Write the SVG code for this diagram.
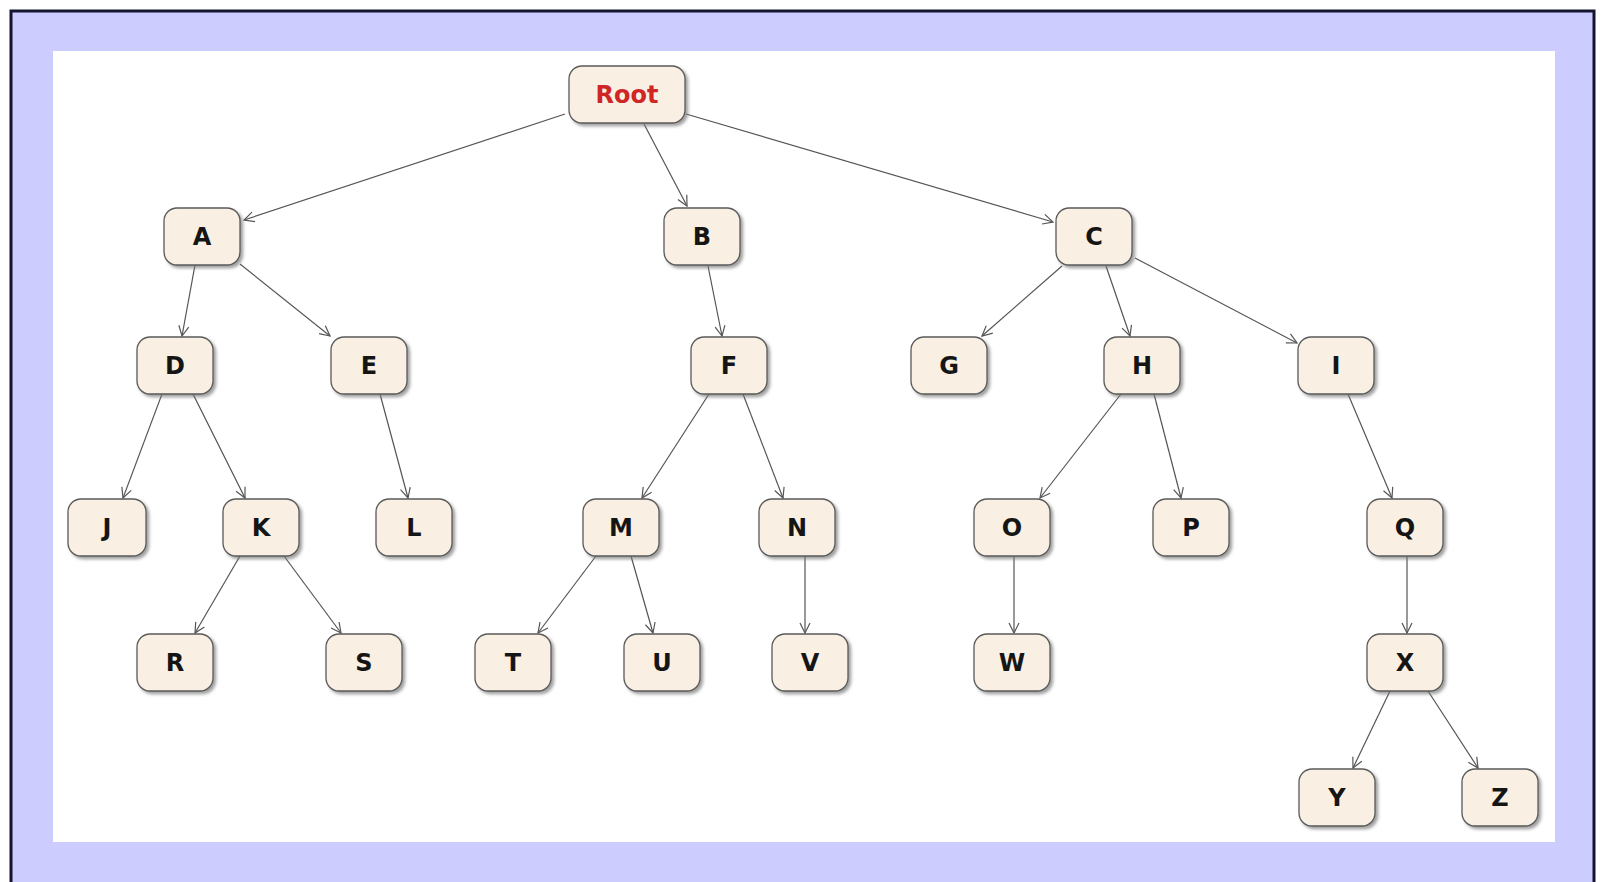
<svg xmlns="http://www.w3.org/2000/svg" width="1601" height="882" viewBox="0 0 1601 882">
<style>
.frame{fill:#ccccff;stroke:#14142e;stroke-width:3}
.inner{fill:#ffffff}
.box{fill:#f9f0e3;stroke:#5a5a5a;stroke-width:1.3;filter:url(#sh)}
.lbl{font-family:"DejaVu Sans",Verdana,sans-serif;font-weight:bold;font-size:24px;fill:#151515;text-anchor:middle}
.root{fill:#d02626}
.edge{stroke:#555;stroke-width:1.2;fill:none;marker-end:url(#arr)}
</style>
<defs>
<filter id="sh" x="-20%" y="-20%" width="150%" height="150%">
<feDropShadow dx="2.5" dy="2.5" stdDeviation="1.5" flood-color="#777" flood-opacity="0.7"/>
</filter>
<marker id="arr" viewBox="0 0 12 12" refX="11" refY="6" markerWidth="12" markerHeight="12" markerUnits="userSpaceOnUse" orient="auto">
<path d="M1,1 L11,6 L1,11" fill="none" stroke="#555" stroke-width="1.2"/>
</marker>
</defs>
<rect class="frame" x="11" y="11" width="1583" height="890"/>
<rect class="inner" x="53" y="51" width="1502" height="791"/>
<g id="connectors">
<line class="edge" x1="565" y1="114" x2="244" y2="220"/>
<line class="edge" x1="644" y1="124" x2="687" y2="206"/>
<line class="edge" x1="686" y1="114" x2="1053" y2="222"/>
<line class="edge" x1="195" y1="265" x2="182" y2="336"/>
<line class="edge" x1="240" y1="264" x2="330" y2="336"/>
<line class="edge" x1="708" y1="266" x2="722" y2="336"/>
<line class="edge" x1="1062" y1="266" x2="982" y2="336"/>
<line class="edge" x1="1106" y1="266" x2="1130" y2="336"/>
<line class="edge" x1="1135" y1="258" x2="1297" y2="343"/>
<line class="edge" x1="162" y1="394" x2="123" y2="498"/>
<line class="edge" x1="193" y1="394" x2="245" y2="498"/>
<line class="edge" x1="380" y1="394" x2="408" y2="498"/>
<line class="edge" x1="709" y1="394" x2="642" y2="498"/>
<line class="edge" x1="743" y1="394" x2="783" y2="498"/>
<line class="edge" x1="1121" y1="394" x2="1040" y2="498"/>
<line class="edge" x1="1154" y1="394" x2="1181" y2="498"/>
<line class="edge" x1="1348" y1="394" x2="1392" y2="498"/>
<line class="edge" x1="240" y1="556" x2="195" y2="633"/>
<line class="edge" x1="284" y1="556" x2="341" y2="633"/>
<line class="edge" x1="596" y1="556" x2="538" y2="633"/>
<line class="edge" x1="631" y1="556" x2="653" y2="633"/>
<line class="edge" x1="805" y1="556" x2="805" y2="633"/>
<line class="edge" x1="1014" y1="556" x2="1014" y2="633"/>
<line class="edge" x1="1407" y1="556" x2="1407" y2="633"/>
<line class="edge" x1="1390" y1="691" x2="1353" y2="768"/>
<line class="edge" x1="1428" y1="691" x2="1478" y2="768"/>
</g>
<g id="node-root"><rect class="box" x="569" y="66" width="116" height="57" rx="13"/><text class="lbl root" x="627" y="103">Root</text></g>
<g id="node-A"><rect class="box" x="164" y="208" width="76" height="57" rx="13"/><text class="lbl" x="202" y="245">A</text></g>
<g id="node-B"><rect class="box" x="664" y="208" width="76" height="57" rx="13"/><text class="lbl" x="702" y="245">B</text></g>
<g id="node-C"><rect class="box" x="1056" y="208" width="76" height="57" rx="13"/><text class="lbl" x="1094" y="245">C</text></g>
<g id="node-D"><rect class="box" x="137" y="337" width="76" height="57" rx="13"/><text class="lbl" x="175" y="374">D</text></g>
<g id="node-E"><rect class="box" x="331" y="337" width="76" height="57" rx="13"/><text class="lbl" x="369" y="374">E</text></g>
<g id="node-F"><rect class="box" x="691" y="337" width="76" height="57" rx="13"/><text class="lbl" x="729" y="374">F</text></g>
<g id="node-G"><rect class="box" x="911" y="337" width="76" height="57" rx="13"/><text class="lbl" x="949" y="374">G</text></g>
<g id="node-H"><rect class="box" x="1104" y="337" width="76" height="57" rx="13"/><text class="lbl" x="1142" y="374">H</text></g>
<g id="node-I"><rect class="box" x="1298" y="337" width="76" height="57" rx="13"/><text class="lbl" x="1336" y="374">I</text></g>
<g id="node-J"><rect class="box" x="68" y="499" width="78" height="57" rx="13"/><text class="lbl" x="107" y="536">J</text></g>
<g id="node-K"><rect class="box" x="223" y="499" width="76" height="57" rx="13"/><text class="lbl" x="261" y="536">K</text></g>
<g id="node-L"><rect class="box" x="376" y="499" width="76" height="57" rx="13"/><text class="lbl" x="414" y="536">L</text></g>
<g id="node-M"><rect class="box" x="583" y="499" width="76" height="57" rx="13"/><text class="lbl" x="621" y="536">M</text></g>
<g id="node-N"><rect class="box" x="759" y="499" width="76" height="57" rx="13"/><text class="lbl" x="797" y="536">N</text></g>
<g id="node-O"><rect class="box" x="974" y="499" width="76" height="57" rx="13"/><text class="lbl" x="1012" y="536">O</text></g>
<g id="node-P"><rect class="box" x="1153" y="499" width="76" height="57" rx="13"/><text class="lbl" x="1191" y="536">P</text></g>
<g id="node-Q"><rect class="box" x="1367" y="499" width="76" height="57" rx="13"/><text class="lbl" x="1405" y="536">Q</text></g>
<g id="node-R"><rect class="box" x="137" y="634" width="76" height="57" rx="13"/><text class="lbl" x="175" y="671">R</text></g>
<g id="node-S"><rect class="box" x="326" y="634" width="76" height="57" rx="13"/><text class="lbl" x="364" y="671">S</text></g>
<g id="node-T"><rect class="box" x="475" y="634" width="76" height="57" rx="13"/><text class="lbl" x="513" y="671">T</text></g>
<g id="node-U"><rect class="box" x="624" y="634" width="76" height="57" rx="13"/><text class="lbl" x="662" y="671">U</text></g>
<g id="node-V"><rect class="box" x="772" y="634" width="76" height="57" rx="13"/><text class="lbl" x="810" y="671">V</text></g>
<g id="node-W"><rect class="box" x="974" y="634" width="76" height="57" rx="13"/><text class="lbl" x="1012" y="671">W</text></g>
<g id="node-X"><rect class="box" x="1367" y="634" width="76" height="57" rx="13"/><text class="lbl" x="1405" y="671">X</text></g>
<g id="node-Y"><rect class="box" x="1299" y="769" width="76" height="57" rx="13"/><text class="lbl" x="1337" y="806">Y</text></g>
<g id="node-Z"><rect class="box" x="1462" y="769" width="76" height="57" rx="13"/><text class="lbl" x="1500" y="806">Z</text></g>
</svg>
